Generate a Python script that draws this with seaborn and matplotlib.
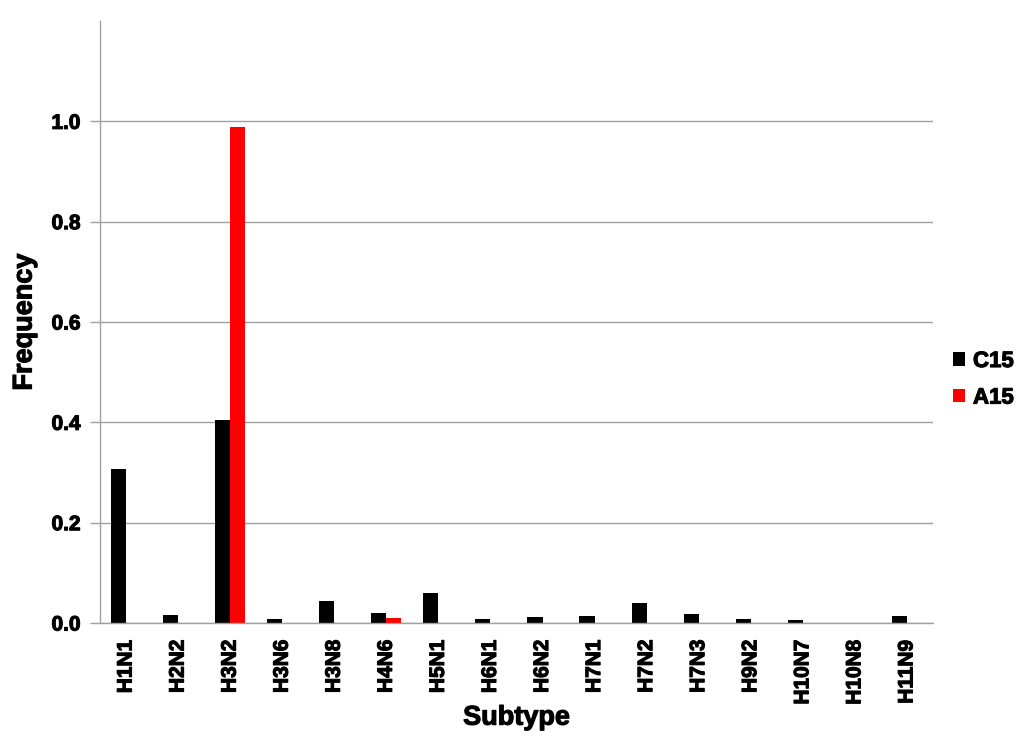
import numpy as np
import pandas as pd
import matplotlib
matplotlib.use("Agg")
import matplotlib.pyplot as plt
import matplotlib.patheffects as pe
from matplotlib.patches import Patch
import seaborn as sns

# Datos
subtypes = ["H1N1", "H2N2", "H3N2", "H3N6", "H3N8", "H4N6", "H5N1", "H6N1",
            "H6N2", "H7N1", "H7N2", "H7N3", "H9N2", "H10N7", "H10N8", "H11N9"]
c15 = [0.307, 0.016, 0.404, 0.007, 0.044, 0.019, 0.060, 0.007,
       0.011, 0.014, 0.039, 0.017, 0.007, 0.005, 0.0, 0.014]
a15 = [0.0, 0.0, 0.988, 0.0, 0.0, 0.010, 0.0, 0.0,
       0.0, 0.0, 0.0, 0.0, 0.0, 0.0, 0.0, 0.0]
series = ["C15", "A15"]
colors = ["#000000", "#FF0000"]

df = pd.DataFrame({
    "Subtype": subtypes * 2,
    "Frequency": c15 + a15,
    "Serie": ["C15"] * len(subtypes) + ["A15"] * len(subtypes),
})

sns.set_style("white")
plt.rcParams["font.family"] = ["Liberation Sans", "DejaVu Sans"]
plt.rcParams["font.weight"] = "bold"
plt.rcParams["text.color"] = "black"
plt.rcParams["axes.labelcolor"] = "black"

fig = plt.figure(figsize=(10.24, 7.53), dpi=100)
ax = fig.add_axes([100 / 1024, 1 - 623 / 753, 833 / 1024, 602 / 753])

sns.barplot(data=df, x="Subtype", y="Frequency", hue="Serie", order=subtypes,
            hue_order=series, palette=colors, saturation=1, width=0.58, gap=0,
            edgecolor="none", linewidth=0, ax=ax, legend=False)

ax.set_ylim(0, 1.2)
ax.set_xlim(-0.5, len(subtypes) - 0.5)
yt = np.arange(0, 1.01, 0.2)
ax.set_yticks(yt)
ax.set_yticklabels([f"{v:.1f}" for v in yt], fontsize=15, fontweight="bold")
ax.yaxis.grid(True, color="#A0A0A0", linewidth=1)
ax.set_axisbelow(True)

ax.set_xticks(range(len(subtypes)))
ax.set_xticklabels(subtypes, rotation=90, fontsize=15, fontweight="bold")
ax.set_xticks(np.arange(-0.5, len(subtypes), 1), minor=True)
ax.tick_params(axis="x", which="major", length=0, pad=12, labelcolor="black")
ax.tick_params(axis="x", which="minor", length=6, color="#A0A0A0", width=1)
ax.tick_params(axis="y", length=7, color="#A0A0A0", width=1, left=True, pad=7,
               labelcolor="black")

# trazo fino para que el texto se vea mas grueso, como en el original
stroke = [pe.withStroke(linewidth=0.8, foreground="black")]
for t in ax.get_xticklabels() + ax.get_yticklabels():
    t.set_path_effects(stroke)

for side in ["top", "right"]:
    ax.spines[side].set_visible(False)
for side in ["left", "bottom"]:
    ax.spines[side].set_color("#A0A0A0")
    ax.spines[side].set_linewidth(1)

ax.set_xlabel("Subtype", fontsize=19.5, fontweight="bold", labelpad=0,
              path_effects=stroke)
ax.set_ylabel("Frequency", fontsize=19.5, fontweight="bold", labelpad=10,
              path_effects=stroke)

handles = [Patch(facecolor=c, edgecolor="none", label=s) for s, c in zip(series, colors)]
leg = ax.legend(handles=handles, loc="center left", bbox_to_anchor=(1.0, 0.404),
                frameon=False, prop={"size": 16, "weight": "bold"},
                handlelength=0.55, handleheight=0.55, handletextpad=0.35,
                labelspacing=0.7)
for t in leg.get_texts():
    t.set_path_effects(stroke)

fig.savefig("out.png", dpi=100)
